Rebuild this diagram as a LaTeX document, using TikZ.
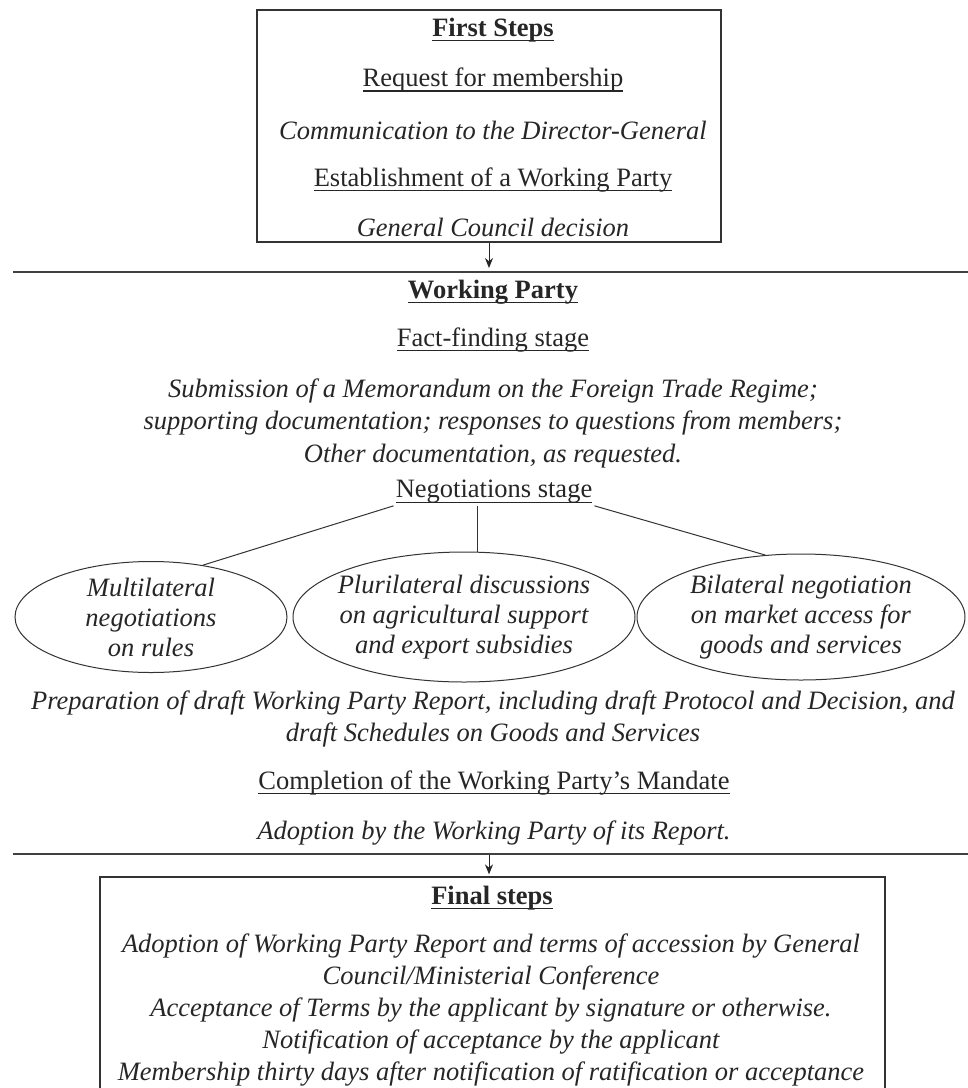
\documentclass[tikz,border=0pt]{standalone}
\usepackage{fontspec}
\setmainfont{Liberation Serif}
\usetikzlibrary{shapes.geometric,arrows.meta}
\newcommand\bsz{\fontsize{26.5}{32.5}\selectfont}
\newcommand\uln[1]{\setbox0\hbox{#1}\leavevmode\rlap{\rule[-5pt]{\wd0}{1.2pt}}\box0}
\begin{document}
\begin{tikzpicture}[x=1pt,y=-1pt,
  rmtxt/.style={font=\bsz, text=black!85, inner sep=2pt, align=center},
  ittxt/.style={font=\bsz\itshape, text=black!85, inner sep=2pt, align=center},
  hdtxt/.style={font=\bsz\bfseries, text=black!85, inner sep=2pt, align=center},
  eltxt/.style={font=\fontsize{26.5}{30}\selectfont\itshape, text=black!85, inner sep=0pt, align=center},
  oval/.style={draw=black!80, ellipse, line width=1pt, inner sep=0pt},
  frame/.style={draw=black!80, rectangle, line width=1.3pt, inner sep=0pt},
  rulel/.style={draw=black!75, line width=1.4pt},
  link/.style={draw=black!80, line width=1pt},
  arr/.style={draw=black!85, line width=1pt, -{Stealth[length=10pt,width=8pt]}}
]
\useasboundingbox (0,0) rectangle (968,1088);
\fill[white] (0,0) rectangle (968,1088);

% First steps box
\node[frame, minimum width=464pt, minimum height=232pt] (first) at (489,126) {};
\node[hdtxt] (fs) at (493,30) {\uln{First Steps}};
\node[rmtxt] (req) at (493,80) {\uln{Request for membership}};
\node[ittxt] (comm) at (493,130) {Communication to the Director-General};
\node[rmtxt] (estab) at (493,180) {\uln{Establishment of a Working Party}};
\node[ittxt] (gcd) at (493,227) {General Council decision};

% separator 1
\coordinate (h1l) at (13,272);
\coordinate (h1r) at (968,272);
\draw[rulel] (h1l) -- (h1r);
\coordinate (a1) at (489,268);
\draw[arr] (first.south -| a1) -- (a1);

% Working party
\node[hdtxt] (wp) at (493,292) {\uln{Working Party}};
\node[rmtxt] (ff) at (493,340) {\uln{Fact-finding stage}};
\node[ittxt] (sub) at (493,423) {Submission of a Memorandum on the Foreign Trade Regime;\\
supporting documentation; responses to questions from members;\\
Other documentation, as requested.};
\node[rmtxt] (neg) at (494,492) {\uln{Negotiations stage}};

% ellipses
\node[oval, minimum width=272pt, minimum height=111pt] (e1) at (151,617) {};
\node[oval, minimum width=342pt, minimum height=130pt] (e2) at (464,617) {};
\node[oval, minimum width=328pt, minimum height=126pt] (e3) at (801,617) {};
\node[eltxt] (t1) at (e1.center) {Multilateral\\negotiations\\on rules};
\node[eltxt] (t2) at (e2.center) {Plurilateral discussions\\on agricultural support\\and export subsidies};
\node[eltxt] (t3) at (e3.center) {Bilateral negotiation\\on market access for\\goods and services};

\draw[link] (neg.south west) -- (e1.45);
\draw[link] (e2.78) -- (e2.78 |- neg.south);
\draw[link] (neg.south east) -- (e3.120);

\node[ittxt] (prep) at (493,719) {Preparation of draft Working Party Report, including draft Protocol and Decision, and\\
draft Schedules on Goods and Services};
\node[rmtxt] (compl) at (494,783) {\uln{Completion of the Working Party’s Mandate}};
\node[ittxt] (adopt) at (494,833) {Adoption by the Working Party of its Report.};

% separator 2
\coordinate (h2l) at (13,854);
\coordinate (h2r) at (968,854);
\draw[rulel] (h2l) -- (h2r);
\coordinate (a2) at (489,855);

% Final steps box
\node[frame, minimum width=785pt, minimum height=240pt] (final) at (492.5,997) {};
\draw[arr, shorten >=2pt] (a2) -- (a2 |- final.north);
\node[hdtxt] (fin) at (492,898) {\uln{Final steps}};
\node[ittxt, font=\fontsize{26.5}{32}\selectfont\itshape] (flines) at (491,1010) {Adoption of Working Party Report and terms of accession by General\\
Council/Ministerial Conference\\
Acceptance of Terms by the applicant by signature or otherwise.\\
Notification of acceptance by the applicant\\
Membership thirty days after notification of ratification or acceptance};
\end{tikzpicture}
\end{document}
